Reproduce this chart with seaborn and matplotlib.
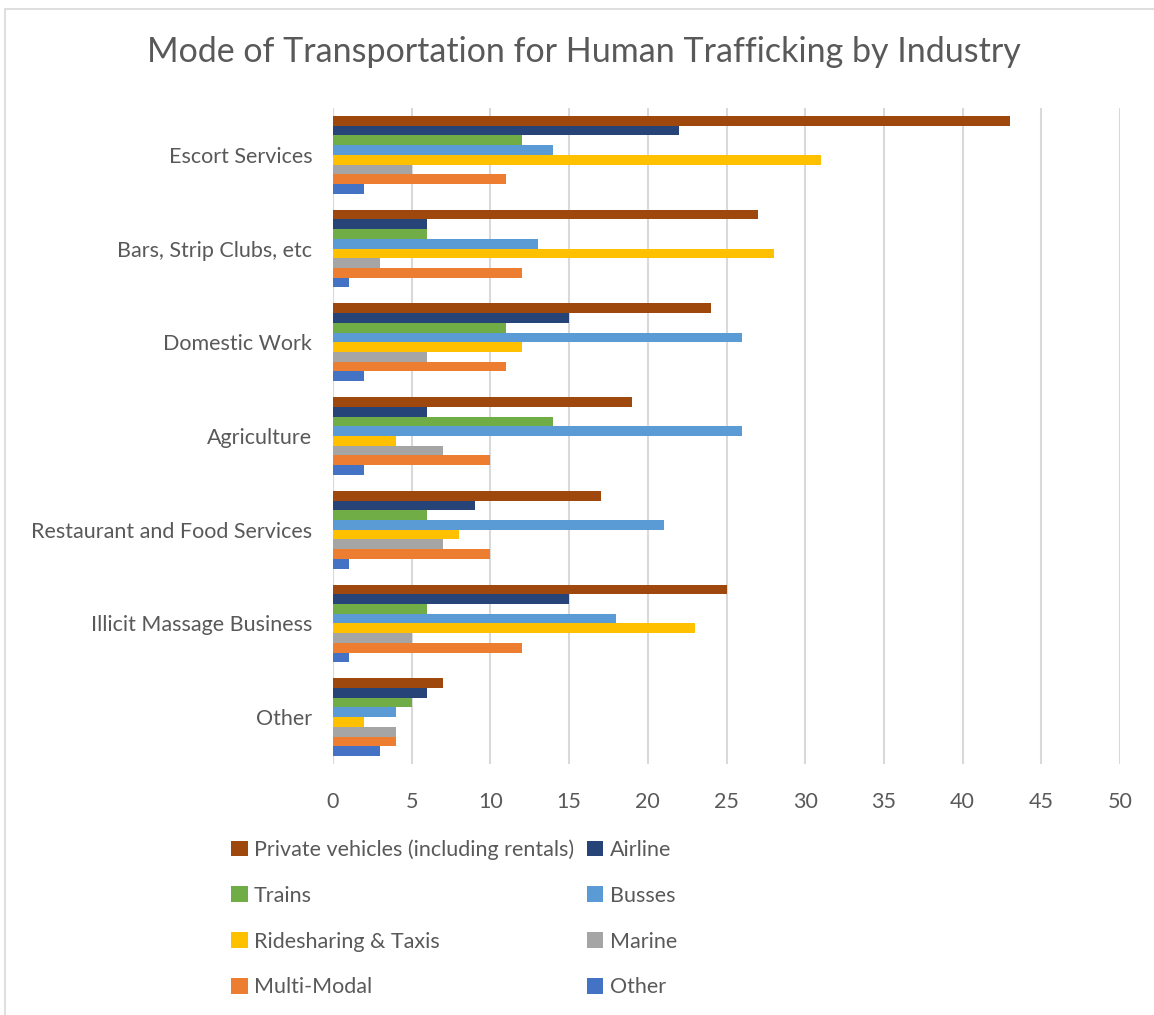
import matplotlib
matplotlib.use("Agg")
import matplotlib.pyplot as plt
import matplotlib.patches as mpatches
import seaborn as sns
import pandas as pd

industries = ["Escort Services", "Bars, Strip Clubs, etc", "Domestic Work", "Agriculture",
              "Restaurant and Food Services", "Illicit Massage Business", "Other"]
modes = ["Private vehicles (including rentals)", "Airline", "Trains", "Busses",
         "Ridesharing & Taxis", "Marine", "Multi-Modal", "Other"]

private_vehicles = [43, 27, 24, 19, 17, 25, 7]
airline = [22, 6, 15, 6, 9, 15, 6]
trains = [12, 6, 11, 14, 6, 6, 5]
busses = [14, 13, 26, 26, 21, 18, 4]
ridesharing = [31, 28, 12, 4, 8, 23, 2]
marine = [5, 3, 6, 7, 7, 5, 4]
multi_modal = [11, 12, 11, 10, 10, 12, 4]
other = [2, 1, 2, 2, 1, 1, 3]

colors = ["#9E480E", "#264478", "#70AD47", "#5B9BD5", "#FFC000", "#A5A5A5", "#ED7D31", "#4472C4"]

series = [private_vehicles, airline, trains, busses, ridesharing, marine, multi_modal, other]
rows = []
for mode, vals in zip(modes, series):
    for ind, v in zip(industries, vals):
        rows.append({"Industry": ind, "Mode": mode, "Count": v})
df = pd.DataFrame(rows)

sns.set_style("white")
plt.rcParams["font.family"] = ["Lato", "DejaVu Sans"]
text_color = "#595959"
grid_color = "#D9D9D9"

fig = plt.figure(figsize=(11.54, 10.15), dpi=100)
ax = fig.add_axes([333 / 1154, 1 - 764 / 1015, (1120 - 333) / 1154, 656 / 1015])

# hue_order keeps the legend labels unique even though "Other" is also a category name
df["Mode"] = df["Mode"].replace({"Other": "Other "})
hue_order = modes[:-1] + ["Other "]
sns.barplot(data=df, x="Count", y="Industry", hue="Mode", hue_order=hue_order,
            order=industries, palette=colors, width=0.83, orient="h", ax=ax,
            saturation=1, errorbar=None, linewidth=0)

ax.set_xlim(0, 50)
ax.set_ylim(6.5, -0.5)
ax.set_xticks(range(0, 55, 5))
ax.xaxis.grid(True, color=grid_color, linewidth=1.5)
ax.set_axisbelow(True)
for s in ax.spines.values():
    s.set_visible(False)
ax.axvline(0, color=grid_color, linewidth=1.5, zorder=0)
ax.tick_params(axis="both", length=0, labelsize=15.5, colors=text_color)
ax.tick_params(axis="y", pad=15)
ax.tick_params(axis="x", pad=20)
ax.set_xlabel("")
ax.set_ylabel("")

handles, labels = ax.get_legend_handles_labels()
ax.legend_.remove()
labels = [l.strip() for l in labels]
# column-major ordering so rows read left to right as in the reference
order = [0, 2, 4, 6, 1, 3, 5, 7]
fig.legend([handles[i] for i in order], [labels[i] for i in order],
           loc="upper left", bbox_to_anchor=(212 / 1154, 1 - 820 / 1015),
           ncol=2, frameon=False, fontsize=15.5, labelcolor=text_color,
           handlelength=0.75, handleheight=0.75, handletextpad=0.3,
           columnspacing=0.6, labelspacing=1.2)

fig.suptitle("Mode of Transportation for Human Trafficking by Industry",
             x=584 / 1154, y=1 - 36 / 1015, va="top", fontsize=24.5, color=text_color)

fig.patches.append(mpatches.Rectangle((5 / 1154, -0.05), 1.0, 1.05 - 9 / 1015,
                                      transform=fig.transFigure, fill=False,
                                      edgecolor=grid_color, linewidth=1.2))

fig.savefig("out.png", dpi=100)
